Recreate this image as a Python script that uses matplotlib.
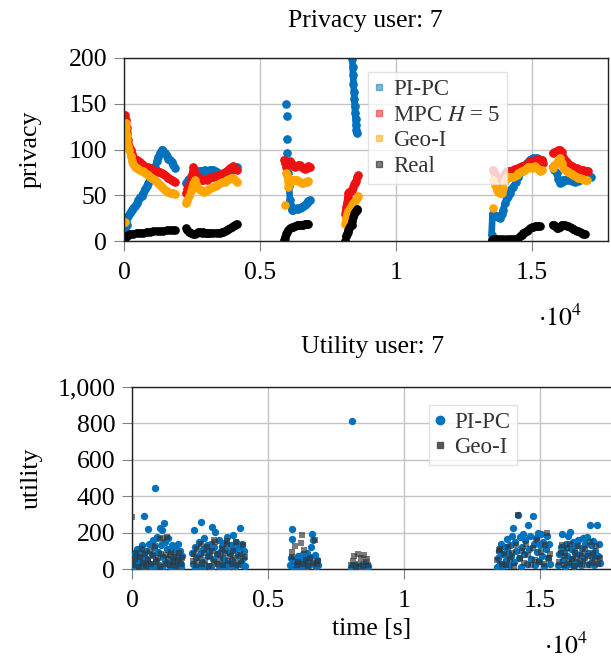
import matplotlib
matplotlib.use("Agg")
import matplotlib.pyplot as plt
import numpy as np
from matplotlib.lines import Line2D
from matplotlib.ticker import FuncFormatter

nan = np.nan

# ---- privacy (top) : time [s] vs privacy, nan = gap between trips ----
pipc_t = [37, 100, 160, 221, 282, 343, 404, 466, 530, 588, 650, 711, 772, 833, 895, 956, 1017, 1078,
          1140, 1201, 1262, 1324, 1385, 1409, 1446, 1507, 1569, 1630, 1691, 1752, 1813, 1875, nan,
          2279, 2320, 2365, 2402, 2450, 2500, 2549, 2610, 2672, 2733, 2794, 2856, 2917, 2978, 3039,
          3100, 3162, 3223, 3284, 3345, 3406, 3468, 3529, 3590, 3652, 3713, 3775, 3836, 3897, 3958,
          4020, 4081, 4142, nan,
          5956, nan, 5980, nan, 5985, nan, 6005, nan, 5919, nan,
          6042, 6070, 6103, 6130, 6164, 6220, 6287, 6350, 6410, 6471, 6532, 6590, 6654, 6716, 6777, 6838, nan,
          8125, nan,
          8395, 8410, 8425, 8440, 8455, 8470, 8485, 8500, 8515, 8530, 8545, 8554, nan,
          13517, 13554, 13578, 13640, 13701, 13760, 13824, 13885, 13946, 14008, 14069, 14130, 14190,
          14250, 14314, 14400, 14498, 14590, 14681, 14804, 14926, 15049, 15172, 15250, 15294, 15355, nan,
          15760, 15830, 15907, 15970, 16029, 16091, 16152, 16213, 16300, 16397, 16490, 16581, 16680,
          16765, 16887, 17010, 17100, 17193]
pipc_p = [12, 17, 27, 31, 34, 36, 38, 41, 45, 48, 49, 53, 57, 60, 63, 67, 71, 76,
          81, 87, 92, 96, 99, 100, 98, 96, 93, 90, 88, 86, 83, 80, nan,
          63, 65, 67, 68, 70, 71, 72, 74, 75, 76, 76, 77, 77, 78, 77,
          77, 78, 78, 78, 77, 75, 73, 72, 73, 73, 74, 74, 76, 77, 78,
          80, 80, 81, nan,
          150, nan, 137, nan, 111, nan, 96, nan, 1, nan,
          74, 60, 45, 38, 34, 34, 35, 36, 35, 36, 37, 38, 39, 42, 44, 45, nan,
          0, nan,
          199, 190, 181, 172, 163, 155, 147, 140, 133, 127, 121, 118, nan,
          7, 30, 28, 27, 27, 26, 25, 29, 34, 41, 47, 49, 53,
          57, 59, 64, 70, 75, 80, 85, 89, 91, 91, 90, 89, 89, nan,
          81, 78, 74, 68, 63, 65, 67, 67, 67, 67, 66, 65, 66,
          67, 68, 69, 70, 70]

mpc_t = [49, 61, 98, 123, 159, 200, 245, 300, 343, 404, 466, 530, 588, 650, 711, 800, 895, 956, 1017,
         1078, 1140, 1201, 1262, 1324, 1385, 1446, 1507, 1569, 1630, 1691, 1752, 1813, 1875, nan,
         2279, 2330, 2365, 2426, 2490, 2549, 2590, 2630, 2672, 2733, 2794, 2856, 2917, 2978, 3039,
         3100, 3162, 3223, 3284, 3345, 3406, 3468, 3529, 3590, 3652, 3713, 3775, 3836, 3897, 3958,
         4020, 4081, 4142, nan,
         5882, 5919, 5956, 6000, 6042, 6103, 6164, 6225, 6287, 6348, 6410, 6471, 6532, 6593, 6654,
         6716, 6777, 6838, nan,
         8125, 8160, 8186, 8220, 8248, 8290, 8340, 8370, 8420, 8460, 8493, 8530, 8580, 8615, nan,
         13554, 13600, 13650, 13701, 13760, 13824, 13885, 13946, 14008, 14069, 14130, 14190, 14250,
         14314, 14380, 14440, 14498, 14559, 14620, 14681, 14740, 14804, 14870, 14926, 15000, 15049,
         15110, 15172, 15233, 15294, 15355, 15392, nan,
         15760, 15830, 15907, 15970, 16029, 16091, 16152, 16213, 16275, 16336, 16397, 16460, 16520,
         16581, 16642, 16710, 16765, 16830, 16887, 16950, 17010, 17071]
mpc_p = [138, 132, 124, 118, 110, 104, 100, 95, 92, 90, 89, 87, 86, 84, 83, 81, 81, 80, 79,
         78, 77, 76, 75, 75, 74, 73, 72, 70, 69, 68, 67, 66, 65, nan,
         52, 57, 60, 63, 72, 81, 78, 72, 69, 68, 69, 67, 67, 68, 67,
         68, 70, 70, 70, 71, 71, 72, 71, 73, 74, 75, 76, 78, 80, 81,
         82, 80, 78, nan,
         89, 85, 81, 84, 86, 87, 84, 82, 81, 82, 83, 83, 81, 80, 79,
         80, 82, 81, nan,
         30, 37, 41, 48, 52, 54, 55, 56, 59, 62, 63, 66, 70, 72, nan,
         78, 75, 72, 70, 66, 63, 65, 70, 74, 76, 77, 77, 77,
         78, 79, 79, 80, 81, 82, 82, 83, 83, 85, 87, 87, 87,
         88, 89, 89, 89, 88, 85, nan,
         96, 97, 98, 99, 100, 97, 92, 89, 86, 84, 83, 82, 81,
         80, 80, 79, 78, 78, 78, 77, 77, 76]

geoi_t = [25, nan, 61, 74, 98, 123, 159, 196, 240, 282, 343, 404, 466, 530, 588, 650, 711, 772, 833,
          895, 956, 1017, 1078, 1140, 1201, 1262, 1324, 1385, 1446, 1507, 1569, 1630, 1691, 1752,
          1813, 1875, nan,
          2279, 2330, 2402, 2460, 2520, 2610, 2650, 2700, 2760, 2820, 2880, 2940, 3000, 3060, 3120,
          3180, 3284, 3350, 3420, 3529, 3600, 3700, 3775, 3850, 3950, 4020, 4080, 4142, nan,
          5919, nan, 5956, 5990, 6020, 6042, 6070, 6103, 6164, 6225, 6287, 6348, 6410, 6471, 6532,
          6593, 6654, 6716, 6777, nan,
          8125, 8160, 8211, 8250, 8309, 8370, 8431, 8493, 8554, 8600, nan,
          13554, nan, 13578, 13640, 13701, 13760, 13824, 13885, 13946, 14008, 14069, 14130, 14190,
          14250, 14314, 14380, 14440, 14498, 14559, 14620, 14681, 14740, 14804, 14870, 14926, 14990,
          15049, 15110, 15172, 15233, 15294, 15355, nan,
          15760, 15830, 15907, 15970, 16029, 16091, 16152, 16213, 16275, 16336, 16397, 16460, 16520,
          16581, 16642, 16710, 16765, 16830, 16887, 16950, 17010]
geoi_p = [21, nan, 129, 124, 116, 110, 104, 100, 93, 87, 84, 81, 80, 79, 78, 77, 76, 74, 73,
          72, 70, 69, 68, 67, 65, 63, 61, 59, 58, 56, 55, 54, 53, 53,
          52, 51, nan,
          41, 45, 49, 55, 62, 67, 62, 59, 57, 56, 55, 54, 55, 56, 57,
          58, 59, 60, 61, 63, 64, 65, 67, 68, 69, 69, 67, 65, nan,
          39, nan, 74, 72, 66, 59, 62, 64, 67, 67, 67, 67, 66, 64, 63,
          63, 64, 65, 66, nan,
          19, 25, 30, 33, 36, 39, 41, 44, 47, 49, nan,
          36, nan, 67, 61, 56, 54, 53, 52, 58, 66, 70, 70, 70,
          70, 70, 71, 72, 74, 75, 76, 77, 78, 80, 81, 81, 80,
          81, 82, 80, 79, 76, 78, nan,
          80, 83, 85, 88, 91, 85, 80, 78, 76, 75, 74, 73, 72,
          71, 70, 69, 69, 68, 68, 67, 67]

real_t = [0, 37, 74, 123, 159, 221, 343, 466, 588, 711, 833, 956, 1078, 1201, 1324, 1446, 1569, 1691,
          1813, 1875, nan,
          2279, 2330, 2402, 2470, 2549, 2610, 2672, 2733, 2794, 2856, 2917, 2978, 3039, 3100, 3162,
          3284, 3406, 3529, 3600, 3652, 3713, 3775, 3836, 3897, 3958, 4020, 4081, 4142, nan,
          5882, 5919, 5956, 6000, 6042, 6103, 6164, 6225, 6287, 6348, 6410, 6471, 6532, 6593, 6654,
          6716, 6777, nan,
          8125, nan, 8150, 8186, 8220, 8248, 8280, 8309, 8340, 8370, 8400, 8431, 8460, 8493, 8530,
          8554, 8580, nan,
          13517, 13578, 13640, 13701, 13824, 13946, 14069, 14190, 14314, 14400, 14498, 14559, 14620,
          14681, 14740, 14804, 14870, 14926, 14990, 15049, 15110, 15172, 15233, 15294, nan,
          15760, 15800, 15850, 15907, 15970, 16029, 16091, 16152, 16213, 16275, 16336, 16397, 16460,
          16520, 16581, 16642, 16710, 16765, 16830, 16887, 16950]
real_p = [0, 3, 5, 6, 7, 8, 8, 9, 9, 9, 10, 10, 11, 11, 11, 11, 12, 12,
          12, 12, nan,
          14, 12, 10, 9, 8, 8, 9, 10, 10, 9, 10, 9, 9, 9, 9,
          9, 9, 9, 10, 10, 11, 12, 13, 14, 15, 16, 18, 19, nan,
          1, 4, 8, 10, 12, 14, 15, 15, 16, 17, 17, 18, 18, 18, 19,
          19, 19, nan,
          0, nan, 5, 8, 10, 12, 14, 16, 17, 18, 22, 26, 30, 32, 33,
          34, 35, nan,
          1, 2, 2, 2, 2, 2, 2, 2, 2, 2, 3, 5, 7,
          9, 10, 11, 12, 14, 15, 15, 16, 16, 16, 16, nan,
          18, 17, 16, 14, 14, 15, 18, 17, 17, 16, 16, 15, 14,
          13, 12, 11, 11, 10, 9, 8, 8]

# ---- utility (bottom) ----
util_pipc_t = [20, 60, 100, 140, 180, 220, 260, 300, 340, 380, 420, 450, 480, 520, 560, 600, 640, 680,
               720, 760, 800, 845, 880, 920, 960, 1000, 1030, 1070, 1110, 1150, 1190, 1220, 1260, 1300,
               1340, 1380, 1420, 1460, 1500, 1540, 1580, 1620, 1660, 1700, 1740, 1780, 1820, 1850,
               90, 200, 330, 500, 700, 900, 1100, 1350, 1600, 1800,
               2220, 2260, 2290, 2330, 2370, 2410, 2450, 2490, 2540, 2580, 2620, 2660, 2700, 2740,
               2780, 2820, 2860, 2900, 2950, 2990, 3030, 3070, 3110, 3150, 3190, 3230, 3270, 3310,
               3350, 3390, 3430, 3470, 3510, 3550, 3590, 3630, 3680, 3720, 3760, 3800, 3840, 3880,
               3920, 3960, 3990, 4030, 4070, 4110, 4150,
               2300, 2600, 2900, 3200, 3500, 3800, 4100,
               5820, 5860, 5880, 5890, 5920, 5960, 6000, 6040, 6080, 6120, 6160, 6200, 6240, 6280,
               6320, 6360, 6400, 6440, 6480, 6520, 6560, 6600, 6630, 6670, 6700, 6740, 6780, 6820, 6850,
               8060, 8100, 8090, 8150, 8200, 8250, 8300, 8350, 8400, 8450, 8500, 8550, 8600, 8650, 8690,
               13420, 13460, 13500, 13540, 13580, 13620, 13660, 13700, 13740, 13780, 13820, 13860,
               13900, 13940, 13980, 14020, 14060, 14100, 14140, 14200, 14240, 14280, 14320, 14360,
               14390, 14430, 14470, 14510, 14570, 14610, 14650, 14690, 14730, 14770, 14810, 14850,
               14890, 14930, 14970, 15010, 15050, 15090, 15130, 15170, 15210, 15250, 15290, 15330, 15370,
               15680, 15720, 15760, 15800, 15840, 15880, 15920, 15960, 16000, 16040, 16080, 16100,
               16140, 16180, 16220, 16260, 16300, 16340, 16380, 16420, 16460, 16500, 16540, 16580,
               16620, 16660, 16720, 16760, 16800, 16840, 16880, 16920, 16960, 17000, 17040, 17100,
               17140, 17180, 17200]
util_pipc = [10, 45, 80, 25, 110, 60, 5, 95, 40, 130, 70, 290, 15, 100, 55, 222, 140, 30,
             85, 160, 120, 443, 50, 175, 95, 20, 227, 130, 213, 65, 253, 150, 40, 110,
             170, 75, 10, 130, 90, 50, 120, 25, 80, 140, 60, 100, 30, 70,
             15, 20, 8, 30, 10, 15, 5, 20, 8, 12,
             90, 30, 213, 120, 60, 10, 150, 80, 256, 40, 110, 170, 20, 130,
             70, 100, 15, 140, 231, 55, 120, 204, 85, 30, 160, 95, 10, 125,
             60, 145, 40, 105, 175, 20, 90, 130, 50, 185, 110, 25, 150, 75,
             120, 35, 227, 140, 60, 100, 15,
             5, 12, 8, 15, 5, 10, 20,
             20, 60, 167, 222, 10, 35, 5, 50, 25, 70, 15, 45, 8, 80,
             30, 55, 12, 90, 40, 20, 65, 122, 195, 158, 30, 75, 10, 50, 20,
             5, 15, 815, 2, 20, 8, 12, 3, 18, 6, 25, 4, 10, 2, 15,
             10, 60, 100, 30, 140, 80, 15, 120, 50, 165, 90, 20,
             130, 70, 180, 227, 40, 150, 100, 295, 60, 175, 10, 120,
             195, 85, 160, 30, 240, 110, 180, 55, 289, 140, 20, 170,
             95, 200, 45, 130, 190, 70, 150, 15, 110, 180, 60, 140, 30,
             20, 80, 120, 195, 50, 100, 10, 140, 70, 180, 30, 204,
             110, 55, 150, 15, 90, 130, 40, 160, 75, 20, 115, 170,
             60, 140, 176, 90, 30, 240, 130, 65, 155, 20, 100, 240,
             70, 140, 35]

util_geoi_t = [10, 50, 120, 160, 240, 280, 350, 400, 460, 530, 590, 650, 700, 770, 830, 900, 960, 1020,
               1080, 1140, 1200, 1260, 1320, 1380, 1440, 1500, 1560, 1620, 1680, 1740, 1800, 1840,
               1275, 1030,
               2230, 2280, 2340, 2400, 2460, 2520, 2580, 2640, 2700, 2760, 2820, 2880, 2940, 3000,
               3060, 3120, 3180, 3240, 3300, 3360, 3420, 3480, 3540, 3600, 3660, 3720, 3780, 3840,
               3900, 3960, 4020, 4080, 4140, 3000, 3500,
               5870, 5900, 6000, 6050, 6120, 6210, 6240, 6280, 6330, 6400, 6480, 6560, 6640, 6720,
               6800, 6840,
               8060, 8120, 8180, 8240, 8300, 8360, 8420, 8480, 8540, 8600, 8650, 8690,
               13420, 13480, 13550, 13600, 13680, 13750, 13820, 13900, 13980, 14060, 14140, 14200,
               14260, 14340, 14420, 14500, 14580, 14660, 14740, 14820, 14900, 14980, 15060, 15140,
               15200, 15250, 15320, 15380,
               15700, 15760, 15820, 15880, 15940, 16000, 16060, 16120, 16180, 16240, 16300, 16360,
               16420, 16480, 16540, 16600, 16660, 16720, 16780, 16840, 16900, 16960, 17020, 17080,
               17140, 17200]
util_geoi = [284, 20, 55, 90, 10, 65, 110, 35, 80, 15, 50, 100, 25, 70, 125, 40, 60, 10,
             85, 170, 30, 75, 55, 20, 95, 40, 65, 15, 50, 90, 30, 60,
             176, 167,
             45, 80, 20, 110, 60, 135, 30, 90, 50, 120, 15, 70, 100, 40,
             150, 25, 80, 55, 110, 20, 90, 140, 45, 70, 30, 100, 60, 150,
             20, 85, 45, 130, 65, 160, 155,
             67, 95, 125, 20, 40, 145, 185, 30, 104, 50, 15, 60, 35, 162,
             25, 45,
             20, 45, 70, 10, 85, 30, 60, 15, 75, 40, 55, 20,
             50, 104, 110, 30, 80, 20, 120, 55, 90, 15, 130, 295,
             60, 100, 35, 140, 75, 20, 115, 50, 160, 40, 95, 25,
             130, 198, 60, 80,
             40, 90, 130, 20, 70, 115, 35, 140, 55, 15, 95, 60,
             125, 25, 80, 45, 110, 20, 70, 150, 35, 90, 55, 125,
             30, 60]

xticks = [0, 5000, 10000, 15000]
xtick_labels = ["0", "0.5", "1", "1.5"]
privacy_ticks = [0, 50, 100, 150, 200]
utility_ticks = [0, 200, 400, 600, 800, 1000]

BLUE = "#0072BD"
RED = "#EE1111"
ORANGE = "#FFA500"

plt.rcParams["font.family"] = ["Liberation Serif", "DejaVu Serif"]
plt.rcParams["mathtext.fontset"] = "stix"
plt.rcParams["font.size"] = 18.5

W, H = 611, 659
fig = plt.figure(figsize=(W / 100, H / 100), dpi=100)


def px_axes(left, top, right, bottom):
    return fig.add_axes([left / W, 1 - bottom / H, (right - left) / W, (bottom - top) / H])


def style(ax, yticks):
    ax.set_xlim(0, 17800)
    ax.set_xticks(xticks)
    ax.set_xticklabels(xtick_labels)
    ax.set_yticks(yticks)
    ax.set_ylim(yticks[0], yticks[-1])
    ax.grid(True, color="#c4c4c4", lw=1.0)
    ax.set_axisbelow(True)
    ax.tick_params(direction="out", length=7, width=0.8, color="#808080", pad=5)
    ax.tick_params(axis="x", pad=8)
    for s in ax.spines.values():
        s.set_linewidth(1.0)
        s.set_color("#222222")


# privacy panel
ax1 = px_axes(124, 58, 608, 241)
style(ax1, privacy_ticks)
kw = dict(marker="o", ms=5.2, lw=4.8, solid_capstyle="round", solid_joinstyle="round", clip_on=True)
ax1.plot(pipc_t, pipc_p, color=BLUE, **kw)
ax1.plot(mpc_t, mpc_p, color=RED, **kw)
ax1.plot(geoi_t, geoi_p, color=ORANGE, **kw)
ax1.plot(real_t, real_p, color="black", **kw)
ax1.set_ylabel("privacy")
ax1.yaxis.set_label_coords(-0.17, 0.5)

handles = [Line2D([], [], ls="none", marker="s", ms=4, color=c, alpha=0.5)
           for c in (BLUE, RED, ORANGE, "black")]
leg1 = ax1.legend(handles, ["PI-PC", "MPC $H$ = 5", "Geo-I", "Real"],
                  loc="upper left", bbox_to_anchor=(0.48, 0.985), fontsize=16.5,
                  handlelength=0.4, handletextpad=0.4, labelspacing=0.2,
                  borderpad=0.3, fancybox=False, framealpha=0.8, edgecolor="#dddddd")
for t in leg1.get_texts():
    t.set_color("#333333")

fig.text(365 / W, 1 - 21 / H, "Privacy user: 7", ha="center", va="center")
fig.text(560 / W, 1 - 318 / H, r"$\cdot 10^4$", ha="center", va="center")

# utility panel
ax2 = px_axes(132, 387, 616, 569)
style(ax2, utility_ticks)
ax2.yaxis.set_major_formatter(FuncFormatter(lambda v, p: f"{int(v):,}"))
ax2.scatter(util_pipc_t, util_pipc, s=28, color=BLUE, marker="o", lw=0, zorder=3)
ax2.scatter(util_geoi_t, util_geoi, s=17, color="#333333", alpha=0.65, marker="s", lw=0, zorder=4)
ax2.set_ylabel("utility")
ax2.yaxis.set_label_coords(-0.185, 0.5)
ax2.set_xlabel("time [s]")
ax2.xaxis.set_label_coords(0.494, -0.27)

handles2 = [Line2D([], [], ls="none", marker="o", ms=6, color=BLUE),
            Line2D([], [], ls="none", marker="s", ms=4.5, color="#555555")]
leg2 = ax2.legend(handles2, ["PI-PC", "Geo-I"], loc="upper left", bbox_to_anchor=(0.59, 0.965),
                  fontsize=16.5, handlelength=0.4, handletextpad=0.4, labelspacing=0.2,
                  borderpad=0.3, fancybox=False, framealpha=0.8, edgecolor="#dddddd")
for t in leg2.get_texts():
    t.set_color("#333333")

fig.text(373 / W, 1 - 347 / H, "Utility user: 7", ha="center", va="center")
fig.text(566 / W, 1 - 646 / H, r"$\cdot 10^4$", ha="center", va="center")

fig.savefig("out.png", dpi=100)
